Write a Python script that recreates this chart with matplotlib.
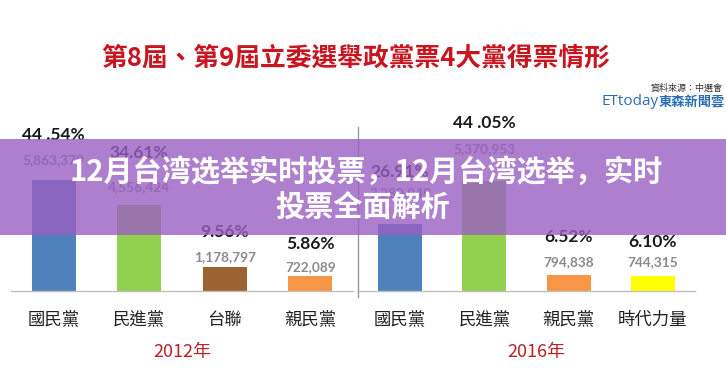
import matplotlib
matplotlib.use("Agg")
import matplotlib.pyplot as plt
from matplotlib.patches import Rectangle
from matplotlib.lines import Line2D

# ---- data ----
parties_2012 = ["國民黨", "民進黨", "台聯", "親民黨"]
share_2012 = [44.54, 34.61, 9.56, 5.86]
pct_2012 = ["44 .54%", "34.61%", "9.56%", "5.86%"]
votes_2012 = ["5,863,379", "4,556,424", "1,178,797", "722,089"]

parties_2016 = ["國民黨", "民進黨", "親民黨", "時代力量"]
share_2016 = [26.91, 44.05, 6.52, 6.10]
pct_2016 = ["26.91%", "44 .05%", "6.52%", "6.10%"]
votes_2016 = ["3,280,949", "5,370,953", "794,838", "744,315"]

title = "第8屆、第9屆立委選舉政黨票4大黨得票情形"
banner = ["12月台湾选举实时投票，12月台湾选举，实时", "投票全面解析"]

# ---- styling ----
colors_2012 = ["#4f81bd", "#92d050", "#9a6331", "#f79646"]
colors_2016 = ["#4f81bd", "#92d050", "#f79646", "#ffff00"]
# label offsets above each bar top, in pixels (count, percent)
cnt_pad_2012 = [20, 18, 10, 9]
pct_pad_2012 = [45, 52, 35, 32]
cnt_pad_2016 = [31, 32, 13, 14]
pct_pad_2016 = [52, 58, 38, 34]

TC = ["Noto Sans CJK TC", "DejaVu Sans"]
SC = ["Noto Sans CJK SC", "DejaVu Sans"]
NUM = ["Lato", "DejaVu Sans"]

W, H = 726, 376
fig = plt.figure(figsize=(W / 100, H / 100), dpi=100)
fig.patch.set_facecolor("white")


def fx(x):
    return x / W


def fy(y):
    return 1 - y / H


def panel(rect, names, shares, pcts, votes, colors, cpad, ppad, year, year_x):
    ax = fig.add_axes(rect)
    xs = range(len(names))
    ax.bar(xs, shares, width=0.52, color=colors, zorder=2)
    ax.set_xlim(-0.5, 3.5)
    ax.set_ylim(0, 80.3)
    for s in ("top", "left", "right"):
        ax.spines[s].set_visible(False)
    ax.spines["bottom"].set_color("#bfbfbf")
    ax.spines["bottom"].set_linewidth(1.0)
    ax.set_yticks([])
    ax.set_xticks(list(xs))
    ax.set_xticklabels(names, family=TC, fontsize=12.5, color="#222222",
                       fontweight="medium")
    ax.tick_params(axis="x", length=0, pad=14)
    ax.patch.set_alpha(0)
    for i, (h, p, v) in enumerate(zip(shares, pcts, votes)):
        ax.annotate(v, xy=(i, h), xytext=(0, cpad[i]),
                    textcoords="offset pixels", ha="center", va="center",
                    family=NUM, fontweight="bold", fontsize=9.8,
                    color="#8a8a8a")
        ax.annotate(p, xy=(i, h), xytext=(0, ppad[i]),
                    textcoords="offset pixels", ha="center", va="center",
                    family=NUM, fontweight="bold", fontsize=12.5,
                    color="#1a1a1a")
    fig.text(fx(year_x), fy(352), year, family=TC, fontsize=13,
             color="#bb2228", ha="center", va="center", fontweight="medium")
    return ax


panel([fx(11), fy(291), fx(342), 200 / H], parties_2012, share_2012,
      pct_2012, votes_2012, colors_2012, cnt_pad_2012, pct_pad_2012,
      "2012年", 182)
panel([fx(358), fy(291), fx(337), 200 / H], parties_2016, share_2016,
      pct_2016, votes_2016, colors_2016, cnt_pad_2016, pct_pad_2016,
      "2016年", 536)

# separator between the two years
fig.add_artist(Line2D([fx(358), fx(358)], [fy(127), fy(297)],
                      color="#9a9a9a", lw=1.0))

# header
fig.text(fx(356), fy(58), title, family=TC, fontsize=18.5,
         color="#c8151f", ha="center", va="center", fontweight="bold")
fig.text(fx(723), fy(88), "資料來源：中選會", family=TC, fontsize=6.5,
         color="#333333", ha="right", va="center")
fig.text(fx(659), fy(102), "ETtoday", family=["Open Sans", "DejaVu Sans"],
         fontsize=11, color="#2a6db5", ha="right", va="center")
fig.text(fx(659), fy(102), "東森新聞雲", family=TC, fontsize=9.5,
         color="#2a6db5", ha="left", va="center", fontweight="bold")

# overlay banner
fig.add_artist(Rectangle((0, fy(235)), 1, (235 - 139) / H,
                         transform=fig.transFigure, facecolor="#9a5fc2",
                         alpha=0.8, edgecolor="none", zorder=10))
fig.text(fx(366), fy(172), banner[0], family=SC, fontsize=21,
         fontweight="bold", color="white", ha="center", va="center",
         zorder=11)
fig.text(fx(363), fy(208), banner[1], family=SC, fontsize=21,
         fontweight="bold", color="white", ha="center", va="center",
         zorder=11)

fig.savefig("out.png", dpi=100, facecolor="white")
